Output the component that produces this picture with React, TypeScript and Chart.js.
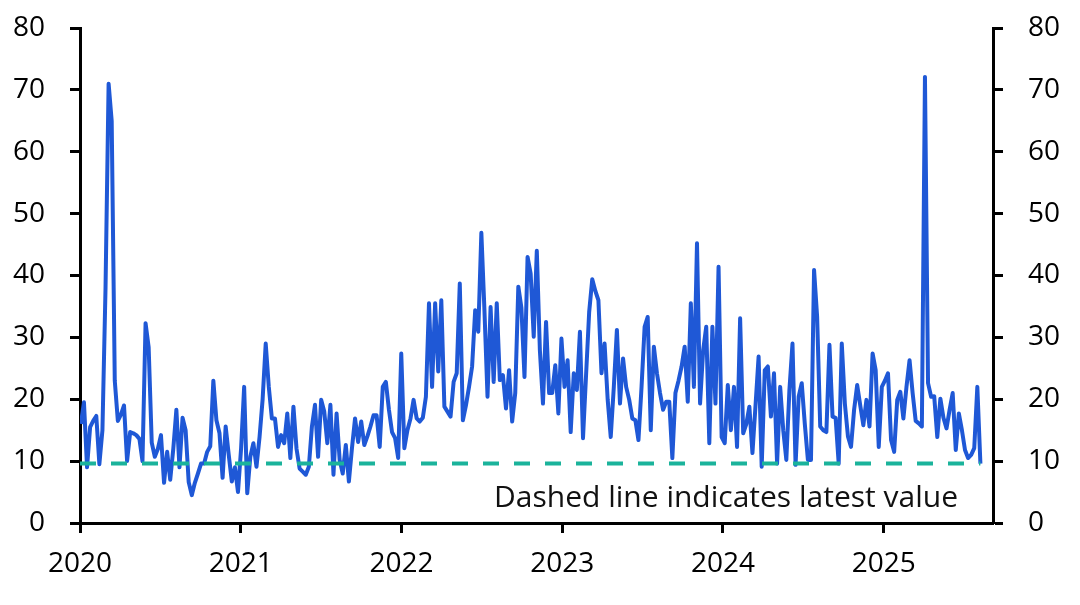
import React, { useEffect, useRef } from "react";
import { Chart, registerables } from "chart.js";

Chart.register(...registerables);

// Weekly series, first observation in the first week of January 2020
const START_YEAR = 2020;
const START_DAY_OFFSET = 2; // days after 1 Jan 2020
const DAYS_PER_STEP = 7;

const values: number[] = [
  16, 19.5, 9, 15.5, 16.5, 17.3, 9.5, 15, 38, 71,
  65, 23, 16.5, 17.5, 19, 10, 14.7, 14.5, 14.2, 13.6,
  10, 32.3, 28.4, 13, 10.7, 12, 14.2, 6.5, 11.5, 7,
  12, 18.3, 9, 17, 15, 6.6, 4.5, 6.5, 8, 9.6,
  9.6, 11.5, 12.4, 23, 16.6, 14.5, 7.3, 15.6, 11, 6.7,
  9, 5, 12, 22, 4.8, 10.7, 12.9, 9.1, 13.9, 20,
  29, 22, 16.9, 16.9, 12.3, 14.2, 12.9, 17.7, 10.5, 18.8,
  12, 8.8, 8.3, 7.8, 9.1, 15.6, 19.1, 10.7, 19.9, 18,
  12.9, 19.1, 7.8, 17.7, 10.2, 8, 12.6, 6.7, 12.1, 16.9,
  13.1, 16.4, 12.6, 14, 15.6, 17.4, 17.4, 12.3, 22, 22.8,
  18.3, 14.7, 13.7, 10.5, 27.4, 12.1, 15, 16.9, 19.9, 16.9,
  16.4, 17, 20.4, 35.5, 22, 35.5, 24.5, 36, 18.8, 18,
  17.2, 22.8, 24.2, 38.7, 16.6, 19, 22, 25.3, 34.4, 30.9,
  46.9, 34.4, 20.4, 34.9, 22.8, 35.5, 23.1, 23.9, 18.5, 24.7,
  16.4, 21, 38.2, 34.8, 23.6, 43, 40.3, 30.1, 44, 27.9,
  19.3, 32.5, 21, 21, 25.5, 17.7, 29.8, 22, 26.3, 14.7,
  24.2, 21.5, 30.9, 13.7, 24, 34.1, 39.4, 37.5, 36, 24.2,
  29, 20, 13.9, 22, 31.2, 19.3, 26.6, 22, 19.9, 16.9,
  16.6, 13.4, 22, 31.7, 33.3, 15, 28.5, 24.2, 21, 18.3,
  19.6, 19.6, 10.5, 21, 23, 25.3, 28.5, 19.6, 35.5, 22,
  45.2, 19.3, 27.9, 31.7, 12.9, 31.7, 19.3, 41.4, 13.9, 12.9,
  22.3, 15, 22, 12.3, 33.1, 14.5, 16, 18.8, 11.3, 19,
  26.9, 9.1, 24.7, 25.3, 17.2, 24.2, 9.6, 22, 15, 10.2,
  21.5, 29, 9.4, 20.4, 22.6, 16, 10.2, 10.2, 40.9, 33.3,
  15.6, 15, 14.7, 28.8, 17.2, 17, 9.6, 29, 19.3, 14,
  12.3, 18.3, 22.3, 19, 15.8, 19.9, 15.6, 27.4, 24.7, 12.3,
  22, 23, 24.2, 13.4, 11.5, 19.9, 21.2, 16.9, 22, 26.3,
  21, 16.5, 16.1, 15.6, 72.1, 22.6, 20.4, 20.5, 13.9, 20.1,
  17, 15.3, 18.3, 21, 11.8, 17.7, 15, 11.8, 10.5, 11,
  12.1, 22, 9.6,
];

const xTickYears: number[] = [2020, 2021, 2022, 2023, 2024, 2025];
const yTickValues: number[] = [0, 10, 20, 30, 40, 50, 60, 70, 80];
const X_MIN = 2020;
const X_MAX = 2025.68;
const Y_MIN = 0;
const Y_MAX = 80;

const ANNOTATION = "Dashed line indicates latest value";

const FONT_FAMILY = "'Open Sans', 'DejaVu Sans', sans-serif";

export default function App() {
  const canvasRef = useRef<HTMLCanvasElement | null>(null);

  useEffect(() => {
    const canvas = canvasRef.current;
    if (!canvas) return;

    const points = values.map((v, i) => ({
      x: START_YEAR + (START_DAY_OFFSET + DAYS_PER_STEP * i) / 365.25,
      y: v,
    }));
    const latest = values[values.length - 1];
    const lastX = points[points.length - 1].x;
    const latestLine = [
      { x: X_MIN, y: latest },
      { x: lastX, y: latest },
    ];

    const annotationPlugin = {
      id: "annotationText",
      afterDraw(chart: any) {
        const { ctx, chartArea } = chart;
        ctx.save();
        ctx.font = `30px ${FONT_FAMILY}`;
        ctx.fillStyle = "#111111";
        ctx.textAlign = "right";
        ctx.textBaseline = "alphabetic";
        ctx.fillText(ANNOTATION, chartArea.right - 35, chartArea.bottom - 16);
        ctx.restore();
      },
    };

    const tickFont = { family: FONT_FAMILY, size: 28 };

    const yAxisCommon = {
      type: "linear" as const,
      min: Y_MIN,
      max: Y_MAX,
      afterBuildTicks: (scale: any) => {
        scale.ticks = yTickValues.map((v) => ({ value: v }));
      },
      grid: {
        drawOnChartArea: false,
        drawTicks: true,
        tickLength: 10,
        tickWidth: 3,
        tickColor: "#000000",
        color: "#000000",
      },
      border: { display: true, color: "#000000", width: 3 },
      ticks: {
        color: "#000000",
        font: tickFont,
        padding: 25,
      },
    };

    const chart = new Chart(canvas, {
      type: "line",
      data: {
        datasets: [
          {
            label: "Latest",
            data: latestLine,
            borderColor: "#1bb39b",
            borderWidth: 4,
            borderDash: [16, 15],
            borderCapStyle: "butt",
            pointRadius: 0,
            fill: false,
            xAxisID: "x",
            yAxisID: "y",
          },
          {
            label: "Series",
            data: points,
            borderColor: "#1f58d6",
            borderWidth: 4,
            pointRadius: 0,
            tension: 0,
            fill: false,
            borderJoinStyle: "round",
            xAxisID: "x",
            yAxisID: "y",
          },
        ],
      },
      options: {
        animation: false,
        responsive: false,
        maintainAspectRatio: false,
        layout: { padding: { top: 28, left: 0, right: 0, bottom: 0 } },
        plugins: {
          legend: { display: false },
          tooltip: { enabled: false },
        },
        scales: {
          x: {
            type: "linear",
            position: "bottom",
            min: X_MIN,
            max: X_MAX,
            afterBuildTicks: (scale: any) => {
              scale.ticks = xTickYears.map((v) => ({ value: v }));
            },
            afterFit: (scale: any) => {
              scale.height = 82;
              scale.paddingLeft = 0;
              scale.paddingRight = 0;
            },
            grid: {
              drawOnChartArea: false,
              drawTicks: true,
              tickLength: 10,
              tickWidth: 3,
              tickColor: "#000000",
              color: "#000000",
            },
            border: { display: true, color: "#000000", width: 3 },
            ticks: {
              color: "#000000",
              font: tickFont,
              padding: 14,
              maxRotation: 0,
              autoSkip: false,
              callback: (v: any) => String(v),
            },
          },
          y: {
            ...yAxisCommon,
            position: "left",
            afterFit: (scale: any) => {
              scale.width = 80;
              scale.paddingTop = 10;
              scale.paddingBottom = 10;
            },
          },
          y2: {
            ...yAxisCommon,
            position: "right",
            afterFit: (scale: any) => {
              scale.width = 87;
              scale.paddingTop = 10;
              scale.paddingBottom = 10;
            },
          },
        },
      },
      plugins: [annotationPlugin],
    } as any);

    return () => {
      chart.destroy();
    };
  }, []);

  return (
    <div
      style={{
        position: "fixed",
        left: 0,
        top: 0,
        width: 1080,
        height: 605,
        background: "#ffffff",
      }}
    >
      <canvas ref={canvasRef} width={1080} height={605} style={{ display: "block" }} />
    </div>
  );
}
